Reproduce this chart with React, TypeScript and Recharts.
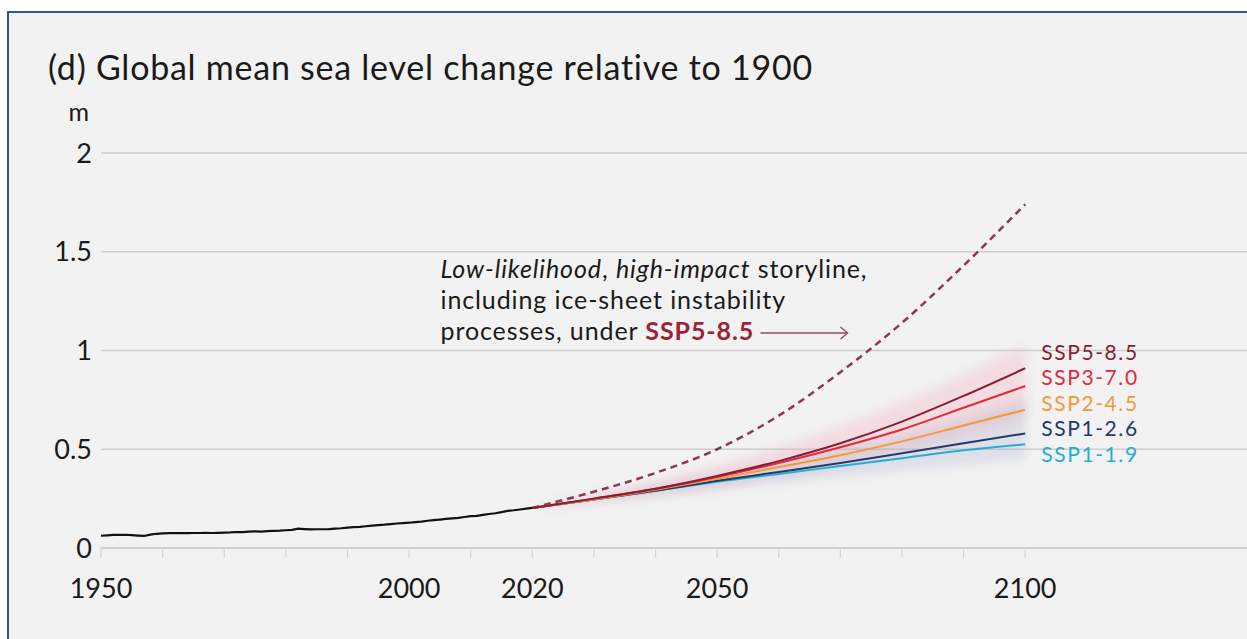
import React from 'react';
import {
  ComposedChart,
  Line,
  Area,
  XAxis,
  YAxis,
  CartesianGrid,
  ReferenceDot,
} from 'recharts';

// Observed global mean sea level, annual values from 1950 to 2020 (m, relative to 1900)
const historyStartYear = 1950;
const historyValues = [
  0.062, 0.064, 0.066, 0.066, 0.067, 0.065, 0.063, 0.061, 0.068, 0.072,
  0.074, 0.075, 0.075, 0.076, 0.075, 0.076, 0.076, 0.077, 0.076, 0.077,
  0.078, 0.079, 0.081, 0.080, 0.083, 0.084, 0.083, 0.085, 0.087, 0.088,
  0.090, 0.092, 0.098, 0.096, 0.094, 0.095, 0.095, 0.096, 0.098, 0.100,
  0.103, 0.106, 0.107, 0.110, 0.113, 0.116, 0.118, 0.121, 0.124, 0.126,
  0.128, 0.131, 0.134, 0.138, 0.141, 0.144, 0.147, 0.150, 0.153, 0.157,
  0.161, 0.163, 0.168, 0.172, 0.176, 0.182, 0.188, 0.191, 0.195, 0.199,
  0.203,
];

// Projection years (decadal)
const projectionYears = [2020, 2030, 2040, 2050, 2060, 2070, 2080, 2090, 2100];

// Median projections per scenario
const ssp585 = [0.203, 0.25, 0.30, 0.365, 0.44, 0.53, 0.64, 0.77, 0.91];
const ssp370 = [0.203, 0.25, 0.30, 0.36, 0.43, 0.51, 0.60, 0.71, 0.82];
const ssp245 = [0.203, 0.245, 0.295, 0.35, 0.41, 0.47, 0.54, 0.62, 0.70];
const ssp126 = [0.203, 0.245, 0.29, 0.34, 0.385, 0.43, 0.48, 0.53, 0.58];
const ssp119 = [0.203, 0.245, 0.29, 0.335, 0.375, 0.415, 0.455, 0.495, 0.525];

// Likely ranges shown as shaded bands
const ssp585Low = [0.203, 0.235, 0.27, 0.31, 0.36, 0.42, 0.49, 0.57, 0.66];
const ssp585High = [0.203, 0.27, 0.34, 0.42, 0.51, 0.62, 0.74, 0.88, 1.03];
const ssp126Low = [0.203, 0.23, 0.26, 0.295, 0.33, 0.36, 0.39, 0.42, 0.45];
const ssp126High = [0.203, 0.26, 0.315, 0.37, 0.43, 0.50, 0.57, 0.66, 0.75];

// Low-likelihood, high-impact storyline under SSP5-8.5
const storylineYears = [2020, 2030, 2040, 2050, 2060, 2070, 2080, 2090, 2100];
const storylineValues = [0.203, 0.285, 0.38, 0.50, 0.67, 0.89, 1.14, 1.43, 1.74];

// Axis ticks
const xTicks = [
  1950, 1960, 1970, 1980, 1990, 2000, 2010, 2020, 2030, 2040, 2050, 2060,
  2070, 2080, 2090, 2100,
];
const xLabelled = [1950, 2000, 2020, 2050, 2100];
const yTicks = [0, 0.5, 1, 1.5, 2];

// Scenario labels at the end of the projections
const scenarioNames = ['SSP5-8.5', 'SSP3-7.0', 'SSP2-4.5', 'SSP1-2.6', 'SSP1-1.9'];
const scenarioLabelLevels = [0.99, 0.861, 0.732, 0.603, 0.474];

const FONT = 'Lato, "Open Sans", sans-serif';
const COLORS = {
  ssp585: '#8a1c36',
  ssp370: '#e5283e',
  ssp245: '#f19a38',
  ssp126: '#233a6b',
  ssp119: '#1eafd7',
  storyline: '#8b3656',
  history: '#111111',
  grid: '#cdcdcd',
};
const scenarioColors = [COLORS.ssp585, COLORS.ssp370, COLORS.ssp245, COLORS.ssp126, COLORS.ssp119];

const historyData = historyValues.map((v, i) => ({ year: historyStartYear + i, value: v }));
const toSeries = (vals: number[]) => projectionYears.map((y, i) => ({ year: y, value: vals[i] }));
const toBand = (lo: number[], hi: number[]) =>
  projectionYears.map((y, i) => ({ year: y, range: [lo[i], hi[i]] }));
const storylineData = storylineYears.map((y, i) => ({ year: y, value: storylineValues[i] }));

const W = 1247;
const H = 639;

const ScenarioLabel = (color: string, name: string) => (props: any) => (
  <text
    x={props.cx}
    y={props.cy}
    dy="0.35em"
    fill={color}
    fontFamily={FONT}
    fontSize={21}
    letterSpacing={1.6}
  >
    {name}
  </text>
);

const StorylineNote = (props: any) => {
  const x = props.cx;
  const y = props.cy;
  const arrowY = y + 55;
  return (
    <g fontFamily={FONT} fontSize={25} letterSpacing={0.9} fill="#1a1a1a">
      <text x={x} y={y}>
        <tspan fontStyle="italic">Low-likelihood</tspan>
        <tspan>, </tspan>
        <tspan fontStyle="italic">high-impact</tspan>
        <tspan> storyline,</tspan>
      </text>
      <text x={x} y={y + 31}>including ice-sheet instability</text>
      <text x={x} y={y + 62}>
        <tspan>processes, under </tspan>
        <tspan fontWeight="bold" fill="#9b2238">SSP5-8.5</tspan>
      </text>
      <line x1={x + 320} y1={arrowY} x2={x + 407} y2={arrowY} stroke="#9a4760" strokeWidth={1.4} />
      <path
        d={`M ${x + 400} ${arrowY - 6} L ${x + 407} ${arrowY} L ${x + 400} ${arrowY + 6}`}
        fill="none"
        stroke="#9a4760"
        strokeWidth={1.4}
      />
    </g>
  );
};

const UnitLabel = (props: any) => {
  const vb = props.viewBox || {};
  return (
    <text
      x={vb.x + vb.width - 12}
      y={vb.y - 32}
      textAnchor="end"
      fill="#1a1a1a"
      fontFamily={FONT}
      fontSize={25}
    >
      m
    </text>
  );
};

export default function App() {
  return (
    <div
      style={{
        position: 'fixed',
        left: 0,
        top: 0,
        width: W,
        height: H,
        background: '#ffffff',
        overflow: 'hidden',
      }}
    >
      <div
        style={{
          position: 'absolute',
          left: 7,
          top: 11,
          right: 0,
          bottom: 0,
          background: '#f2f2f2',
          borderLeft: '2px solid #2d5593',
          borderTop: '2px solid #2d5593',
        }}
      />
      <div
        style={{
          position: 'absolute',
          left: 48,
          top: 47,
          fontFamily: FONT,
          fontSize: 34,
          letterSpacing: 0.75,
          lineHeight: '40px',
          color: '#1a1a1a',
          whiteSpace: 'nowrap',
        }}
      >
        (d) Global mean sea level change relative to 1900
      </div>
      <div style={{ position: 'absolute', left: 0, top: 0 }}>
        <ComposedChart
          width={W}
          height={H}
          margin={{ top: 153, right: 0, left: 0, bottom: 0 }}
        >
          <CartesianGrid
            horizontal
            vertical={false}
            stroke={COLORS.grid}
            strokeWidth={1.5}
          />
          <XAxis
            dataKey="year"
            type="number"
            domain={[1950, 2136]}
            ticks={xTicks}
            allowDataOverflow
            height={91}
            axisLine={{ stroke: COLORS.grid, strokeWidth: 1.5 }}
            tickLine={{ stroke: '#d4d4d4', strokeWidth: 1.2 }}
            tickSize={10}
            tickMargin={21}
            tickFormatter={(v: number) => (xLabelled.includes(v) ? String(v) : '')}
            tick={{ fill: '#1a1a1a', fontSize: 27, fontFamily: FONT }}
          />
          <YAxis
            type="number"
            domain={[0, 2]}
            ticks={yTicks}
            width={101}
            axisLine={false}
            tickLine={false}
            tickSize={0}
            tickMargin={9}
            tick={{ fill: '#1a1a1a', fontSize: 27, fontFamily: FONT }}
            label={{ content: UnitLabel }}
          />

          <Area
            data={toBand(ssp585Low, ssp585High)}
            dataKey="range"
            type="monotone"
            stroke="none"
            fill="#f4a0ab"
            fillOpacity={0.26}
            isAnimationActive={false}
            style={{ filter: 'blur(5px)' }}
          />
          <Area
            data={toBand(ssp126Low, ssp126High)}
            dataKey="range"
            type="monotone"
            stroke="none"
            fill="#9ea4c8"
            fillOpacity={0.24}
            isAnimationActive={false}
            style={{ filter: 'blur(5px)' }}
          />

          <Line
            data={storylineData}
            dataKey="value"
            type="monotone"
            stroke={COLORS.storyline}
            strokeWidth={2.5}
            strokeDasharray="7 5"
            dot={false}
            isAnimationActive={false}
          />
          <Line data={toSeries(ssp119)} dataKey="value" type="monotone" stroke={COLORS.ssp119} strokeWidth={2} dot={false} isAnimationActive={false} />
          <Line data={toSeries(ssp126)} dataKey="value" type="monotone" stroke={COLORS.ssp126} strokeWidth={2} dot={false} isAnimationActive={false} />
          <Line data={toSeries(ssp245)} dataKey="value" type="monotone" stroke={COLORS.ssp245} strokeWidth={2} dot={false} isAnimationActive={false} />
          <Line data={toSeries(ssp370)} dataKey="value" type="monotone" stroke={COLORS.ssp370} strokeWidth={2} dot={false} isAnimationActive={false} />
          <Line data={toSeries(ssp585)} dataKey="value" type="monotone" stroke={COLORS.ssp585} strokeWidth={2} dot={false} isAnimationActive={false} />
          <Line
            data={historyData}
            dataKey="value"
            type="linear"
            stroke={COLORS.history}
            strokeWidth={2.2}
            dot={false}
            isAnimationActive={false}
          />

          {scenarioNames.map((name, i) => (
            <ReferenceDot
              key={name}
              x={2102.6}
              y={scenarioLabelLevels[i]}
              r={1}
              ifOverflow="visible"
              shape={ScenarioLabel(scenarioColors[i], name)}
            />
          ))}
          <ReferenceDot
            x={2005.1}
            y={1.367}
            r={1}
            ifOverflow="visible"
            shape={StorylineNote}
          />
        </ComposedChart>
      </div>
    </div>
  );
}
